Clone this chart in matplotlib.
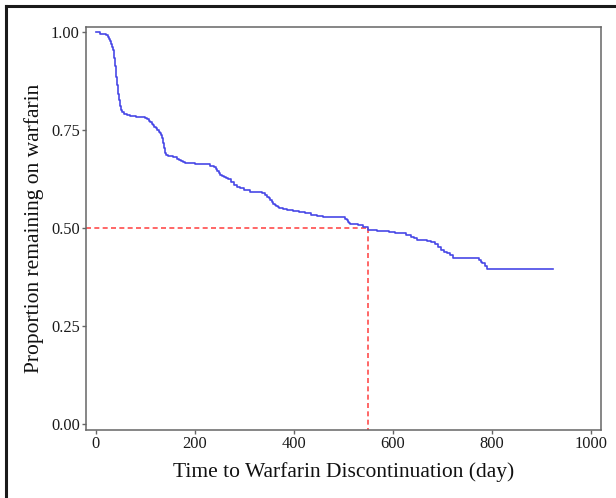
import matplotlib
matplotlib.use("Agg")
import matplotlib.pyplot as plt
from matplotlib.lines import Line2D

times = [0, 8, 21, 24, 26, 28, 30, 32, 34, 36, 37, 38, 39, 40, 41, 42, 43, 44,
         45, 46, 47, 48, 49, 50, 53, 56, 62, 68, 80, 92, 100, 104, 108, 110, 113,
         115, 118, 121, 124, 127, 129, 131, 133, 135, 136, 137, 138, 139, 142,
         146, 155, 163, 168, 172, 176, 179, 200, 219, 230, 239, 242, 245, 248,
         251, 255, 259, 263, 267, 273, 279, 285, 291, 300, 311, 322, 335, 341,
         346, 349, 352, 355, 358, 361, 364, 367, 370, 378, 386, 398, 410, 422,
         434, 446, 458, 504, 507, 509, 512, 514, 522, 530, 540, 549, 559, 569,
         581, 593, 605, 617, 627, 637, 643, 649, 659, 669, 677, 685, 691, 697,
         703, 709, 715, 721, 775, 778, 780, 786, 791, 924]
survival = [1.0, 0.997, 0.993, 0.988, 0.983, 0.977, 0.970, 0.962, 0.954, 0.945,
            0.935, 0.925, 0.915, 0.900, 0.886, 0.876, 0.865, 0.855, 0.844, 0.836,
            0.828, 0.820, 0.811, 0.802, 0.797, 0.793, 0.789, 0.786, 0.785, 0.783,
            0.781, 0.778, 0.775, 0.771, 0.767, 0.763, 0.759, 0.755, 0.751, 0.746,
            0.742, 0.737, 0.731, 0.725, 0.718, 0.711, 0.704, 0.691, 0.688, 0.685,
            0.681, 0.678, 0.675, 0.672, 0.669, 0.666, 0.665, 0.663, 0.660, 0.657,
            0.652, 0.647, 0.642, 0.636, 0.634, 0.631, 0.629, 0.627, 0.619, 0.610,
            0.606, 0.602, 0.598, 0.593, 0.592, 0.591, 0.586, 0.580, 0.576, 0.572,
            0.568, 0.563, 0.560, 0.556, 0.554, 0.551, 0.548, 0.546, 0.544, 0.542,
            0.539, 0.535, 0.532, 0.528, 0.524, 0.520, 0.515, 0.513, 0.512, 0.510,
            0.508, 0.503, 0.496, 0.495, 0.494, 0.493, 0.491, 0.489, 0.487, 0.483,
            0.478, 0.474, 0.470, 0.469, 0.468, 0.465, 0.461, 0.452, 0.444, 0.440,
            0.436, 0.431, 0.425, 0.418, 0.414, 0.410, 0.404, 0.397, 0.397]
median_time = 550
median_surv = 0.5
xticks = [0, 200, 400, 600, 800, 1000]
yticks = [0.0, 0.25, 0.5, 0.75, 1.0]
ytick_labels = ["0.00", "0.25", "0.50", "0.75", "1.00"]

plt.rcParams['font.family'] = ['Liberation Serif', 'DejaVu Serif']

fig = plt.figure(figsize=(6.16, 4.98), dpi=100)
ax = fig.add_axes([86/616, 1-430/498, (601-86)/616, (430-27)/498])

xmin, xmax = -20.2, 1020.8
ymin, ymax = -0.0153, 1.014

ax.plot(times, survival, drawstyle='steps-post', color='#4848e6', lw=1.2, zorder=3)
ax.plot([xmin, median_time], [median_surv, median_surv], color='#ff4d4d', lw=1.2,
        dashes=(3, 2), zorder=2)
ax.plot([median_time, median_time], [median_surv, ymin], color='#ff4d4d', lw=1.2,
        dashes=(3, 2), zorder=2)

ax.set_xlim(xmin, xmax)
ax.set_ylim(ymin, ymax)
ax.set_xticks(xticks)
ax.set_xticklabels([str(t) for t in xticks])
ax.set_yticks(yticks)
ax.set_yticklabels(ytick_labels)
ax.tick_params(axis='both', direction='out', length=3, width=1, color='#666666',
               labelsize=11.8, labelcolor='#1a1a1a', pad=1.5)
for s in ax.spines.values():
    s.set_color('#666666')
    s.set_linewidth(1.1)

ax.set_xlabel('Time to Warfarin Discontinuation (day)', fontsize=15.5, color='#111111', labelpad=7)
ax.set_ylabel('Proportion remaining on warfarin', fontsize=15.5, color='#111111', labelpad=5)

# outer frame (cropped: left and top)
fig.add_artist(Line2D([6/616, 6/616], [0, 1-6/498], transform=fig.transFigure,
                      color='#1a1a1a', lw=2.2))
fig.add_artist(Line2D([6/616, 1], [1-6/498, 1-6/498], transform=fig.transFigure,
                      color='#1a1a1a', lw=2.2))

fig.savefig('out.png', dpi=100)
